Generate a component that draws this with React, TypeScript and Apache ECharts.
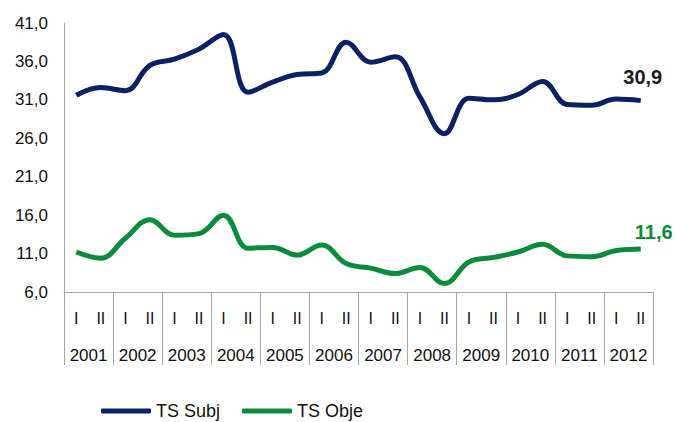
import React, { useEffect, useRef } from "react";
import * as echarts from "echarts";

const years = ["2001", "2002", "2003", "2004", "2005", "2006", "2007", "2008", "2009", "2010", "2011", "2012"];
const halves = years.flatMap(() => ["I", "II"]);
const tsSubj = [31.6, 32.6, 32.2, 35.5, 36.3, 37.6, 39.5, 32.0, 33.3, 34.3, 34.5, 38.5, 35.9, 36.6, 31.4, 26.6, 31.2, 31.0, 31.7, 33.4, 30.4, 30.3, 31.1, 30.9];
const tsObje = [11.2, 10.4, 13.0, 15.4, 13.4, 13.6, 16.0, 11.7, 11.8, 10.8, 12.1, 9.7, 9.1, 8.4, 9.2, 7.1, 9.9, 10.5, 11.2, 12.2, 10.7, 10.6, 11.4, 11.6];
const yMin = 6;
const yMax = 41;
const yStep = 5;

const NAVY = "#0b2163";
const GREEN = "#0a8c3c";
const AXIS = "#a6a6a6";
const FONT = "Liberation Sans";

const fmt = (v: number) => v.toFixed(1).replace(".", ",");

export default function App() {
  const ref = useRef<HTMLDivElement>(null);
  useEffect(() => {
    if (!ref.current) return;
    const chart = echarts.init(ref.current, null, { renderer: "svg" });
    const lastLabel = (v: number, color: string, distance: number, offset: number[]) => ({
      value: v,
      label: {
        show: true,
        position: "top",
        distance,
        offset,
        formatter: fmt(v),
        color,
        fontFamily: FONT,
        fontWeight: "bold",
        fontSize: 20,
      },
    });
    chart.setOption({
      animation: false,
      grid: { left: 64, right: 23, top: 23, bottom: 130 },
      legend: {
        top: 397,
        left: 96,
        itemWidth: 50,
        itemHeight: 5,
        itemGap: 22,
        icon: "roundRect",
        textStyle: { fontFamily: FONT, fontSize: 18, color: "#111" },
        data: ["TS Subj", "TS Obje"],
      },
      xAxis: [
        {
          type: "category",
          data: halves,
          boundaryGap: true,
          axisLine: { show: true, lineStyle: { color: AXIS, width: 1 } },
          axisTick: { show: false },
          axisLabel: { interval: 0, margin: 18, fontFamily: FONT, fontSize: 16, color: "#111" },
        },
        {
          type: "category",
          data: years,
          position: "bottom",
          boundaryGap: true,
          axisLine: { show: false },
          axisTick: { show: true, length: 73, interval: 0, lineStyle: { color: AXIS, width: 1 } },
          axisLabel: { interval: 0, margin: 55, fontFamily: FONT, fontSize: 17, color: "#111" },
        },
      ],
      yAxis: {
        type: "value",
        min: yMin,
        max: yMax,
        interval: yStep,
        axisLine: { show: true, lineStyle: { color: AXIS, width: 1 } },
        axisTick: { show: false },
        splitLine: { show: false },
        axisLabel: { margin: 16, formatter: fmt, fontFamily: FONT, fontSize: 17, color: "#111" },
      },
      series: [
        {
          name: "TS Subj",
          type: "line",
          xAxisIndex: 0,
          smooth: 0.4,
          symbol: "circle",
          symbolSize: 0,
          showSymbol: true,
          lineStyle: { color: NAVY, width: 5 },
          itemStyle: { color: NAVY },
          data: tsSubj.map((v, i) => (i === tsSubj.length - 1 ? lastLabel(v, "#1c1c1c", 14, [2, 0]) : v)),
        },
        {
          name: "TS Obje",
          type: "line",
          xAxisIndex: 0,
          smooth: 0.4,
          symbol: "circle",
          symbolSize: 0,
          showSymbol: true,
          lineStyle: { color: GREEN, width: 5 },
          itemStyle: { color: GREEN },
          data: tsObje.map((v, i) => (i === tsObje.length - 1 ? lastLabel(v, GREEN, 7, [13, 0]) : v)),
        },
      ],
    });
    return () => chart.dispose();
  }, []);
  return <div ref={ref} style={{ position: "absolute", left: 0, top: 0, width: 676, height: 422 }} />;
}
